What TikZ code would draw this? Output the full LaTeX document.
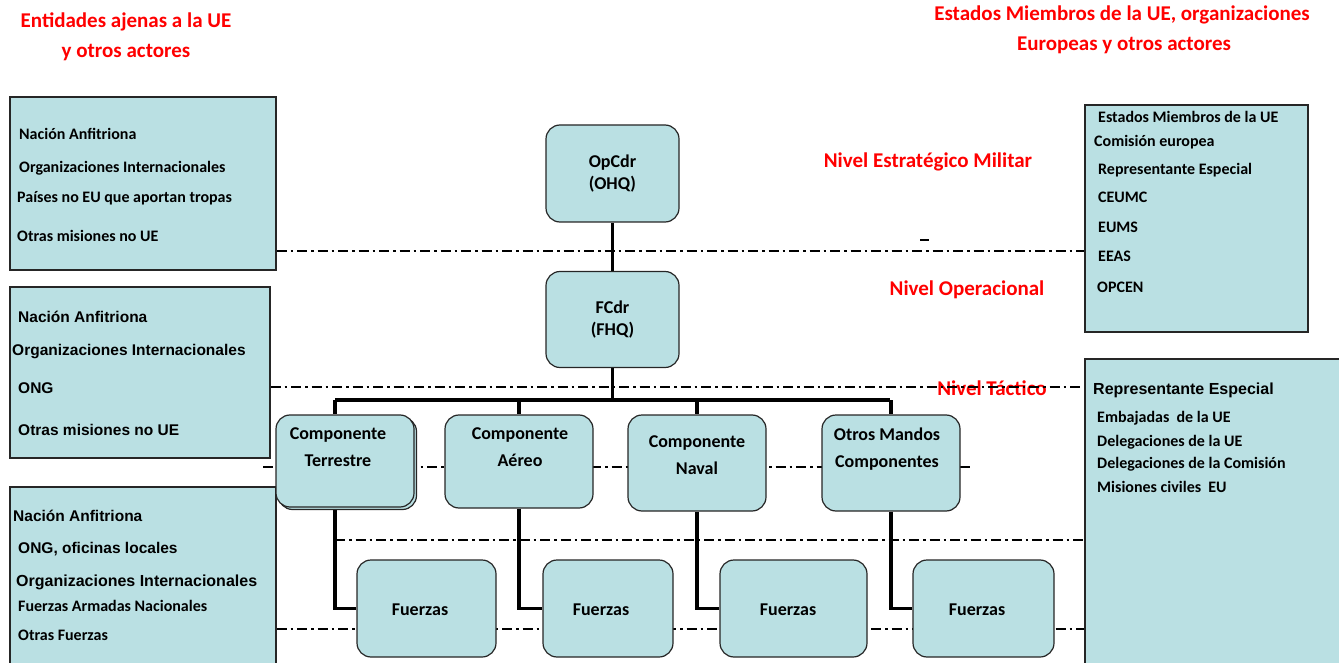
\documentclass[tikz,border=0pt]{standalone}
\usepackage{fontspec}
\setmainfont{Carlito}
\newfontfamily\arialf{Liberation Sans}
\usetikzlibrary{backgrounds,shadows}
\definecolor{cajafondo}{RGB}{186,224,227}
\definecolor{rojonivel}{RGB}{255,0,0}

\begin{document}
\begin{tikzpicture}[x=1pt, y=-1pt,
		caja/.style={draw=black!85, line width=1.2pt, fill=cajafondo, inner sep=0pt},
		mando/.style={caja, rounded corners=14pt, align=center, font=\bfseries\fontsize{18}{22}\selectfont},
		mandotxt/.style={align=center, inner sep=0pt, font=\bfseries\fontsize{18}{27}\selectfont},
		lista/.style={anchor=west, inner sep=0pt, font=\bfseries\fontsize{16}{18}\selectfont},
		listaa/.style={anchor=west, inner sep=0pt, font=\arialf\bfseries\fontsize{15.5}{18}\selectfont},
		titulo/.style={text=rojonivel, inner sep=0pt, font=\bfseries\fontsize{21}{25}\selectfont},
		nivel/.style={line width=1.8pt, dash pattern=on 10pt off 4pt on 2.5pt off 4pt},
		enlace/.style={line width=3.5pt}]
		\useasboundingbox (0,0) rectangle (1339,663);

		% Titulos en rojo
			\node[titulo] (tizq1) at (126,22) {Entidades ajenas a la UE};
			\node[titulo] (tizq2) at (126,53) {y otros actores};
			\node[titulo] (tder1) at (1122,15) {Estados Miembros de la UE, organizaciones};
			\node[titulo] (tder2) at (1124,45) {Europeas y otros actores};
			\node[titulo] (niv1) at (928,162) {Nivel Estratégico Militar};
			\node[titulo] (niv2) at (967,290) {Nivel Operacional};

		% Cajas de los actores
			\node[caja, minimum width=266pt, minimum height=173pt] (izq1) at (143,183.5) {};
			\node[caja, minimum width=260pt, minimum height=171pt] (izq2) at (140,372.5) {};
			\node[caja, minimum width=266pt, minimum height=203pt] (izq3) at (143,588.5) {};
			\node[caja, minimum width=223pt, minimum height=227pt] (der1) at (1196.5,218.5) {};
			\node[caja, minimum width=285pt, minimum height=341pt] (der2) at (1227.5,529.5) {};

			\node[lista] (i11) at (19,134) {Nación Anfitriona};
			\node[lista] (i12) at (19,168) {Organizaciones Internacionales};
			\node[lista] (i13) at (17,198) {Países no EU que aportan tropas};
			\node[lista] (i14) at (17,236) {Otras misiones no UE};

			\node[listaa] (i21) at (18,317) {Nación Anfitriona};
			\node[listaa] (i22) at (12,352) {Organizaciones Internacionales};
			\node[listaa] (i23) at (18,388) {ONG};
			\node[listaa] (i24) at (18,430) {Otras misiones no UE};

			\node[listaa] (i31) at (13,516) {Nación Anfitriona};
			\node[listaa] (i32) at (18,549) {ONG, oficinas locales};
			\node[listaa, font=\arialf\bfseries\fontsize{16}{18}\selectfont] (i33) at (16,582) {Organizaciones Internacionales};
			\node[lista] (i34) at (18,606) {Fuerzas Armadas Nacionales};
			\node[lista] (i35) at (18,635) {Otras Fuerzas};

			\node[lista] (d11) at (1098,117) {Estados Miembros de la UE};
			\node[lista] (d12) at (1094,142) {Comisión europea};
			\node[lista] (d13) at (1098,170) {Representante Especial};
			\node[lista] (d14) at (1098,197) {CEUMC};
			\node[lista] (d15) at (1098,227) {EUMS};
			\node[lista] (d16) at (1098,256) {EEAS};
			\node[lista] (d17) at (1097,287) {OPCEN};

			\node[listaa, font=\arialf\bfseries\fontsize{16}{18}\selectfont] (d21) at (1093,390) {Representante Especial};
			\node[lista] (d22) at (1097,418) {Embajadas\ \ de la UE};
			\node[lista] (d23) at (1097,442) {Delegaciones de la UE};
			\node[lista] (d24) at (1097,464) {Delegaciones de la Comisión};
			\node[lista] (d25) at (1097,487) {Misiones civiles\ \ EU};

		% Mandos
			\node[mando, minimum width=133pt, minimum height=97pt] (opcdr) at (612.5,173.5) {OpCdr\\(OHQ)};
			\node[mando, minimum width=133pt, minimum height=96pt] (fcdr) at (612.5,319.5) {FCdr\\(FHQ)};

			\node[mando, minimum width=138pt, minimum height=92pt,
				copy shadow={shadow xshift=2.5pt, shadow yshift=-2.5pt, fill=cajafondo, draw=black!85}] (terr) at (345,461) {};
			\node[mando, minimum width=148pt, minimum height=93pt] (aereo) at (519,461.5) {};
			\node[mando, minimum width=138pt, minimum height=96pt] (naval) at (697,463) {};
			\node[mando, minimum width=138pt, minimum height=96pt] (otros) at (891,463) {};
			\node[mandotxt] (terrtxt) at (338,447) {Componente\\Terrestre};
			\node[mandotxt] (aereotxt) at (520,447) {Componente\\Aéreo};
			\node[mandotxt] (navaltxt) at (697,455) {Componente\\Naval};
			\node[mandotxt] (otrostxt) at (887,449) {Otros Mandos\\Componentes};

			\node[mando, minimum width=139pt, minimum height=97pt] (f1) at (426.5,608.5) {};
			\node[mando, minimum width=130pt, minimum height=97pt] (f2) at (608,608.5) {};
			\node[mando, minimum width=147pt, minimum height=97pt] (f3) at (793.5,608.5) {};
			\node[mando, minimum width=141pt, minimum height=97pt] (f4) at (983.5,608.5) {};
			\node[mandotxt] (f1txt) at (420,610) {Fuerzas};
			\node[mandotxt] (f2txt) at (601,610) {Fuerzas};
			\node[mandotxt] (f3txt) at (788,610) {Fuerzas};
			\node[mandotxt] (f4txt) at (977,610) {Fuerzas};

		% Lineas de nivel y enlaces
		\begin{scope}[on background layer]
			\coordinate (b1) at (335,400);
			\coordinate (b4) at (890,400);
			\coordinate (ini3) at (263,467);
			\coordinate (fin3) at (970,467);
			\node[titulo] (niv3) at (992,388) {Nivel Táctico};
			\draw[nivel] (izq1.east |- 0,251) -- (der1.west |- 0,251);
			\draw[nivel] (izq2.east |- 0,387) -- (der2.west |- 0,387);
			\draw[nivel] (ini3) -- (fin3);
			\draw[nivel] (b1 |- 0,540) -- (der2.west |- 0,540);
			\draw[nivel] (izq3.east |- 0,629) -- (der2.west |- 0,629);
			\draw[line width=1.2pt] (920,240) -- (929,240);

			\draw[enlace] (opcdr) -- (fcdr);
			\draw[enlace] (fcdr) -- (fcdr |- b1);
			\draw[enlace] (b1) -- (b4);
			\draw[enlace] (b1) -- (b1 |- terr.north);
			\draw[enlace] (aereo.north |- b1) -- (aereo.north);
			\draw[enlace] (naval.north |- b1) -- (naval.north);
			\draw[enlace] (otros.north |- b1) -- (otros.north);
			\draw[enlace] (b1 |- terr.south) |- (f1.west);
			\draw[enlace] (aereo.south) |- (f2.west);
			\draw[enlace] (naval.south) |- (f3.west);
			\draw[enlace] (otros.south) |- (f4.west);
		\end{scope}
	\end{tikzpicture}
\end{document}
